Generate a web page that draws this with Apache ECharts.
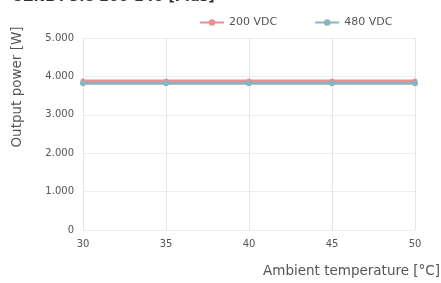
<!DOCTYPE html>
<html>
<head>
<meta charset="utf-8">
<script src="https://cdn.jsdelivr.net/npm/echarts@6/dist/echarts.min.js"></script>
<style>
html,body{margin:0;padding:0;background:#fff}
#chart{width:441px;height:283px}
</style>
</head>
<body>
<div id="chart"></div>
<script>
// data
var temps = ['30', '35', '40', '45', '50'];
var vdc200 = [3880, 3880, 3880, 3880, 3880];
var vdc480 = [3820, 3820, 3820, 3820, 3820];
var seriesNames = ['200 VDC', '480 VDC'];

var font = 'DejaVu Sans';
var myChart = echarts.init(document.getElementById('chart'));

function fmt(v) {
  // 5000 -> 5.000
  return String(v).replace(/\B(?=(\d{3})+(?!\d))/g, '.');
}

var option = {
  animation: false,
  textStyle: { fontFamily: font },
  legend: {
    data: seriesNames,
    top: 12,
    left: 194,
    itemWidth: 24,
    itemHeight: 8,
    itemGap: 37,
    itemStyle: { borderWidth: 0 },
    textStyle: { color: '#555', fontSize: 11, fontFamily: font }
  },
  graphic: [
    {
      type: 'text', left: 12, top: -10,
      style: { text: 'UZN24 3.8 200-240 [Plus]', font: 'bold 14px "DejaVu Sans"', fill: '#333' }
    },
    {
      type: 'text', x: 10, y: 87, rotation: Math.PI / 2,
      style: { text: 'Output power [W]', font: '13.5px "DejaVu Sans"', fill: '#555', align: 'center', verticalAlign: 'top' }
    },
    {
      type: 'text', right: 1, top: 264,
      style: { text: 'Ambient temperature [°C]', font: '13.5px "DejaVu Sans"', fill: '#555' }
    }
  ],
  grid: { left: 83, right: 26, top: 38, bottom: 53 },
  xAxis: {
    type: 'category',
    data: temps,
    boundaryGap: false,
    axisLine: { show: false },
    axisTick: { show: false },
    axisLabel: { color: '#555', fontSize: 10, margin: 9 },
    splitLine: { show: true, lineStyle: { color: '#e6e6e6' } }
  },
  yAxis: {
    type: 'value',
    min: 0,
    max: 5000,
    interval: 1000,
    axisLine: { show: false },
    axisTick: { show: false },
    axisLabel: { color: '#555', fontSize: 10, margin: 9, formatter: fmt },
    splitLine: { lineStyle: { color: '#eeeeee' } }
  },
  series: [
    {
      name: seriesNames[0],
      type: 'line',
      data: vdc200,
      symbol: 'circle',
      symbolSize: 5,
      lineStyle: { width: 3, color: '#ef8d90' },
      itemStyle: { color: '#ef8d90' }
    },
    {
      name: seriesNames[1],
      type: 'line',
      data: vdc480,
      symbol: 'circle',
      symbolSize: 6,
      lineStyle: { width: 3, color: '#8ab3bd' },
      itemStyle: { color: '#8ab3bd' }
    }
  ]
};
myChart.setOption(option);
</script>
</body>
</html>
